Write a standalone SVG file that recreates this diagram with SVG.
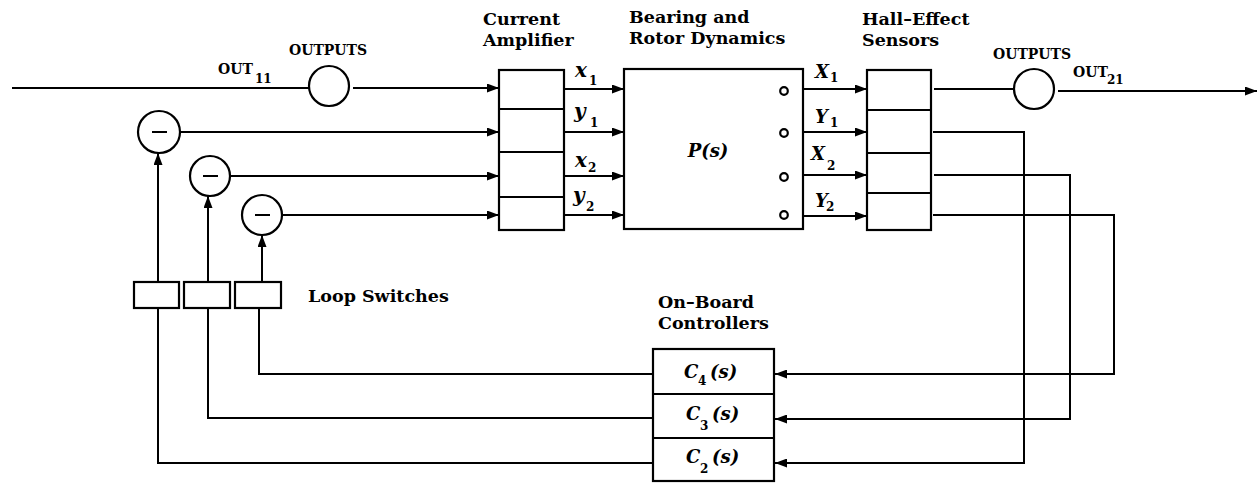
<svg xmlns="http://www.w3.org/2000/svg" width="1257" height="483" viewBox="0 0 1257 483">
<style>
.b{fill:none;stroke:#000;stroke-width:2.2}
.w{fill:#fff;stroke:#000;stroke-width:2.2}
.c{fill:none;stroke:#000;stroke-width:2}
.h{font-family:"DejaVu Serif","Liberation Serif",serif;font-weight:bold;font-size:17.5px;fill:#000}
.o{font-family:"DejaVu Serif","Liberation Serif",serif;font-weight:bold;font-size:14px;fill:#000}
.sub{font-family:"DejaVu Serif","Liberation Serif",serif;font-weight:bold;font-size:12px;fill:#000}
.i{font-family:"DejaVu Serif","Liberation Serif",serif;font-weight:bold;font-style:italic;font-size:18px;fill:#000}
.il{font-family:"DejaVu Serif","Liberation Serif",serif;font-weight:bold;font-style:italic;font-size:20px;fill:#000}
</style>
<defs>
<marker id="ah" viewBox="0 0 12 9" refX="12" refY="4.5" markerWidth="12" markerHeight="9" markerUnits="userSpaceOnUse" orient="auto">
<path d="M0,0 L12,4.5 L0,9 z" fill="#000"/>
</marker>
</defs>
<rect width="1257" height="483" fill="#fff"/>

<g id="connectors">
<path class="c" d="M12,88 H309"/>
<path class="c" d="M353,88 H499" marker-end="url(#ah)"/>
<path class="c" d="M180,132 H499" marker-end="url(#ah)"/>
<path class="c" d="M230,176 H499" marker-end="url(#ah)"/>
<path class="c" d="M282,215 H499" marker-end="url(#ah)"/>
<path class="c" d="M565,89 H624" marker-end="url(#ah)"/>
<path class="c" d="M565,132 H624" marker-end="url(#ah)"/>
<path class="c" d="M565,176 H624" marker-end="url(#ah)"/>
<path class="c" d="M565,215 H624" marker-end="url(#ah)"/>
<path class="c" d="M803,89 H867" marker-end="url(#ah)"/>
<path class="c" d="M803,132 H867" marker-end="url(#ah)"/>
<path class="c" d="M803,175 H867" marker-end="url(#ah)"/>
<path class="c" d="M803,216 H867" marker-end="url(#ah)"/>
<path class="c" d="M934,89 H1014"/>
<path class="c" d="M1058,91 H1257" marker-end="url(#ah)"/>
<path class="c" d="M933,132 H1024 V463 H775" marker-end="url(#ah)"/>
<path class="c" d="M934,175 H1070 V419 H775" marker-end="url(#ah)"/>
<path class="c" d="M933,215 H1114 V374 H775" marker-end="url(#ah)"/>
<path class="c" d="M653,374 H259 V308"/>
<path class="c" d="M653,418 H208 V308"/>
<path class="c" d="M653,463 H158 V308"/>
<path class="c" d="M158,282 V153" marker-end="url(#ah)"/>
<path class="c" d="M208,282 V196" marker-end="url(#ah)"/>
<path class="c" d="M262,282 V235" marker-end="url(#ah)"/>
</g>

<g id="out11">
<circle class="w" cx="329" cy="86" r="20"/>
<text class="o" x="289" y="55">OUTPUTS</text>
<text class="o" x="218" y="74">OUT</text>
<text class="sub" x="255" y="83">11</text>
</g>

<g id="sum1"><circle class="w" cx="159" cy="132" r="21"/><path class="c" d="M152,132 H167" stroke-width="2.5"/></g>
<g id="sum2"><circle class="w" cx="210" cy="176" r="20"/><path class="c" d="M203,176 H218" stroke-width="2.5"/></g>
<g id="sum3"><circle class="w" cx="262" cy="215" r="20"/><path class="c" d="M255,215 H270" stroke-width="2.5"/></g>

<g id="amplifier">
<rect class="w" x="499" y="70" width="65" height="160"/>
<path class="b" d="M499,109 H564 M499,152 H564 M499,197 H564"/>
<text class="h" x="483" y="25">Current</text>
<text class="h" x="483" y="45.5">Amplifier</text>
</g>

<g id="amp-labels">
<text class="il" x="575" y="77">x</text><text class="sub" x="589" y="85">1</text>
<text class="il" x="574" y="118">y</text><text class="sub" x="590" y="127">1</text>
<text class="il" x="575" y="167">x</text><text class="sub" x="588" y="172">2</text>
<text class="il" x="573" y="202">y</text><text class="sub" x="586" y="211">2</text>
</g>

<g id="plant">
<rect class="w" x="624" y="69" width="179" height="160"/>
<circle class="b" cx="784" cy="91" r="3.8"/>
<circle class="b" cx="784" cy="133" r="3.8"/>
<circle class="b" cx="784" cy="177" r="3.8"/>
<circle class="b" cx="784" cy="215" r="3.8"/>
<text class="i" x="708" y="157" text-anchor="middle">P(s)</text>
<text class="h" x="629" y="23">Bearing and</text>
<text class="h" x="629" y="44">Rotor Dynamics</text>
</g>

<g id="plant-labels">
<text class="i" x="815" y="78">X</text><text class="sub" x="830" y="82">1</text>
<text class="i" x="815" y="123">Y</text><text class="sub" x="830" y="127">1</text>
<text class="i" x="811" y="160">X</text><text class="sub" x="827" y="170">2</text>
<text class="i" x="815" y="207">Y</text><text class="sub" x="826" y="211">2</text>
</g>

<g id="sensors">
<rect class="w" x="867" y="70" width="64" height="160"/>
<path class="b" d="M867,110 H931 M867,153 H931 M867,193 H931"/>
<text class="h" x="862" y="25">Hall–Effect</text>
<text class="h" x="862" y="45.5">Sensors</text>
</g>

<g id="out21">
<circle class="w" cx="1034" cy="89" r="20"/>
<text class="o" x="993" y="59">OUTPUTS</text>
<text class="o" x="1073" y="77">OUT</text>
<text class="sub" x="1107" y="84">21</text>
</g>

<g id="switches">
<rect class="w" x="134" y="282" width="45" height="26"/>
<rect class="w" x="184" y="282" width="46" height="26"/>
<rect class="w" x="235" y="282" width="46" height="26"/>
<text class="h" x="308" y="302">Loop Switches</text>
</g>

<g id="controllers">
<rect class="w" x="653" y="349" width="121" height="132"/>
<path class="b" d="M653,394 H774 M653,438 H774"/>
<text class="i" x="684" y="378">C</text><text class="sub" x="698" y="385">4</text><text class="i" x="710" y="378">(s)</text>
<text class="i" x="686" y="420">C</text><text class="sub" x="700" y="430">3</text><text class="i" x="712" y="420">(s)</text>
<text class="i" x="686" y="463">C</text><text class="sub" x="700" y="473">2</text><text class="i" x="712" y="463">(s)</text>
<text class="h" x="658" y="308">On–Board</text>
<text class="h" x="658" y="328.5">Controllers</text>
</g>
</svg>
